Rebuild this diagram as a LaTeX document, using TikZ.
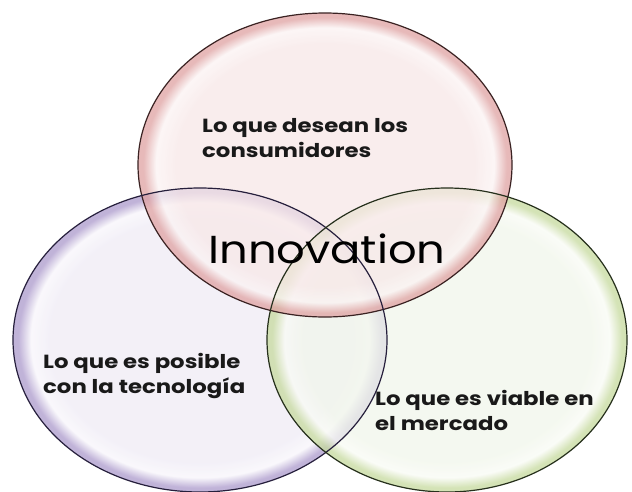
\documentclass[tikz,border=0pt]{standalone}
\usepackage{fontspec}
\setmainfont{Poppins}
\usepackage{tikz}
\usetikzlibrary{positioning}

\definecolor{redin}{HTML}{F8E8E8}
\definecolor{redhi}{HTML}{FBF3F3}
\definecolor{redrim}{HTML}{DFA2A2}
\definecolor{redline}{HTML}{3A2222}
\definecolor{purin}{HTML}{EFEBF5}
\definecolor{purhi}{HTML}{F8F6FB}
\definecolor{purrim}{HTML}{AC9ACC}
\definecolor{purline}{HTML}{261F3C}
\definecolor{grnin}{HTML}{F1F6EB}
\definecolor{grnhi}{HTML}{F9FBF5}
\definecolor{grnrim}{HTML}{C6DA9E}
\definecolor{grnline}{HTML}{26301C}

\pgfdeclareradialshading{redbubble}{\pgfpoint{0bp}{0bp}}{color(0bp)=(redin); color(20bp)=(redin); color(22.6bp)=(redhi); color(24.3bp)=(redrim); color(25bp)=(redrim); color(50bp)=(redrim)}
\pgfdeclareradialshading{purbubble}{\pgfpoint{0bp}{0bp}}{color(0bp)=(purin); color(20bp)=(purin); color(22.6bp)=(purhi); color(24.3bp)=(purrim); color(25bp)=(purrim); color(50bp)=(purrim)}
\pgfdeclareradialshading{grnbubble}{\pgfpoint{0bp}{0bp}}{color(0bp)=(grnin); color(20bp)=(grnin); color(22.6bp)=(grnhi); color(24.3bp)=(grnrim); color(25bp)=(grnrim); color(50bp)=(grnrim)}

\begin{document}
\begin{tikzpicture}[x=1pt, y=-1pt,
  lbl/.style={font=\bfseries\fontsize{19}{25}\selectfont\addfontfeature{FakeStretch=1.2}, align=left, inner sep=0pt, text=black!90},
  rim/.style={line width=1.2pt}]
\useasboundingbox[fill=white] (0,0) rectangle (632,491);
% bubbles
\shade[shading=purbubble, opacity=0.75] (200,340) ellipse [x radius=187, y radius=152];
\shade[shading=grnbubble, opacity=0.75] (447,340) ellipse [x radius=180, y radius=152];
\shade[shading=redbubble, opacity=0.75] (325,165) ellipse [x radius=187, y radius=152];
\draw[rim, color=redline] (325,165) ellipse [x radius=187, y radius=152];
\draw[rim, color=purline] (200,340) ellipse [x radius=187, y radius=152];
\draw[rim, color=grnline] (447,340) ellipse [x radius=180, y radius=152];
% labels
\node[lbl, anchor=base west] (wish) at (202,157) {Lo que desean los\\consumidores};
\node[lbl, anchor=base west] (tech) at (43,393) {Lo que es posible\\con la tecnología};
\node[lbl, anchor=base west] (market) at (375,430) {Lo que es viable en\\el mercado};
\node[font=\fontsize{39}{39}\selectfont\addfontfeature{FakeStretch=1.15}, inner sep=0pt] (innov) at (327,249) {Innovation};
\end{tikzpicture}
\end{document}
